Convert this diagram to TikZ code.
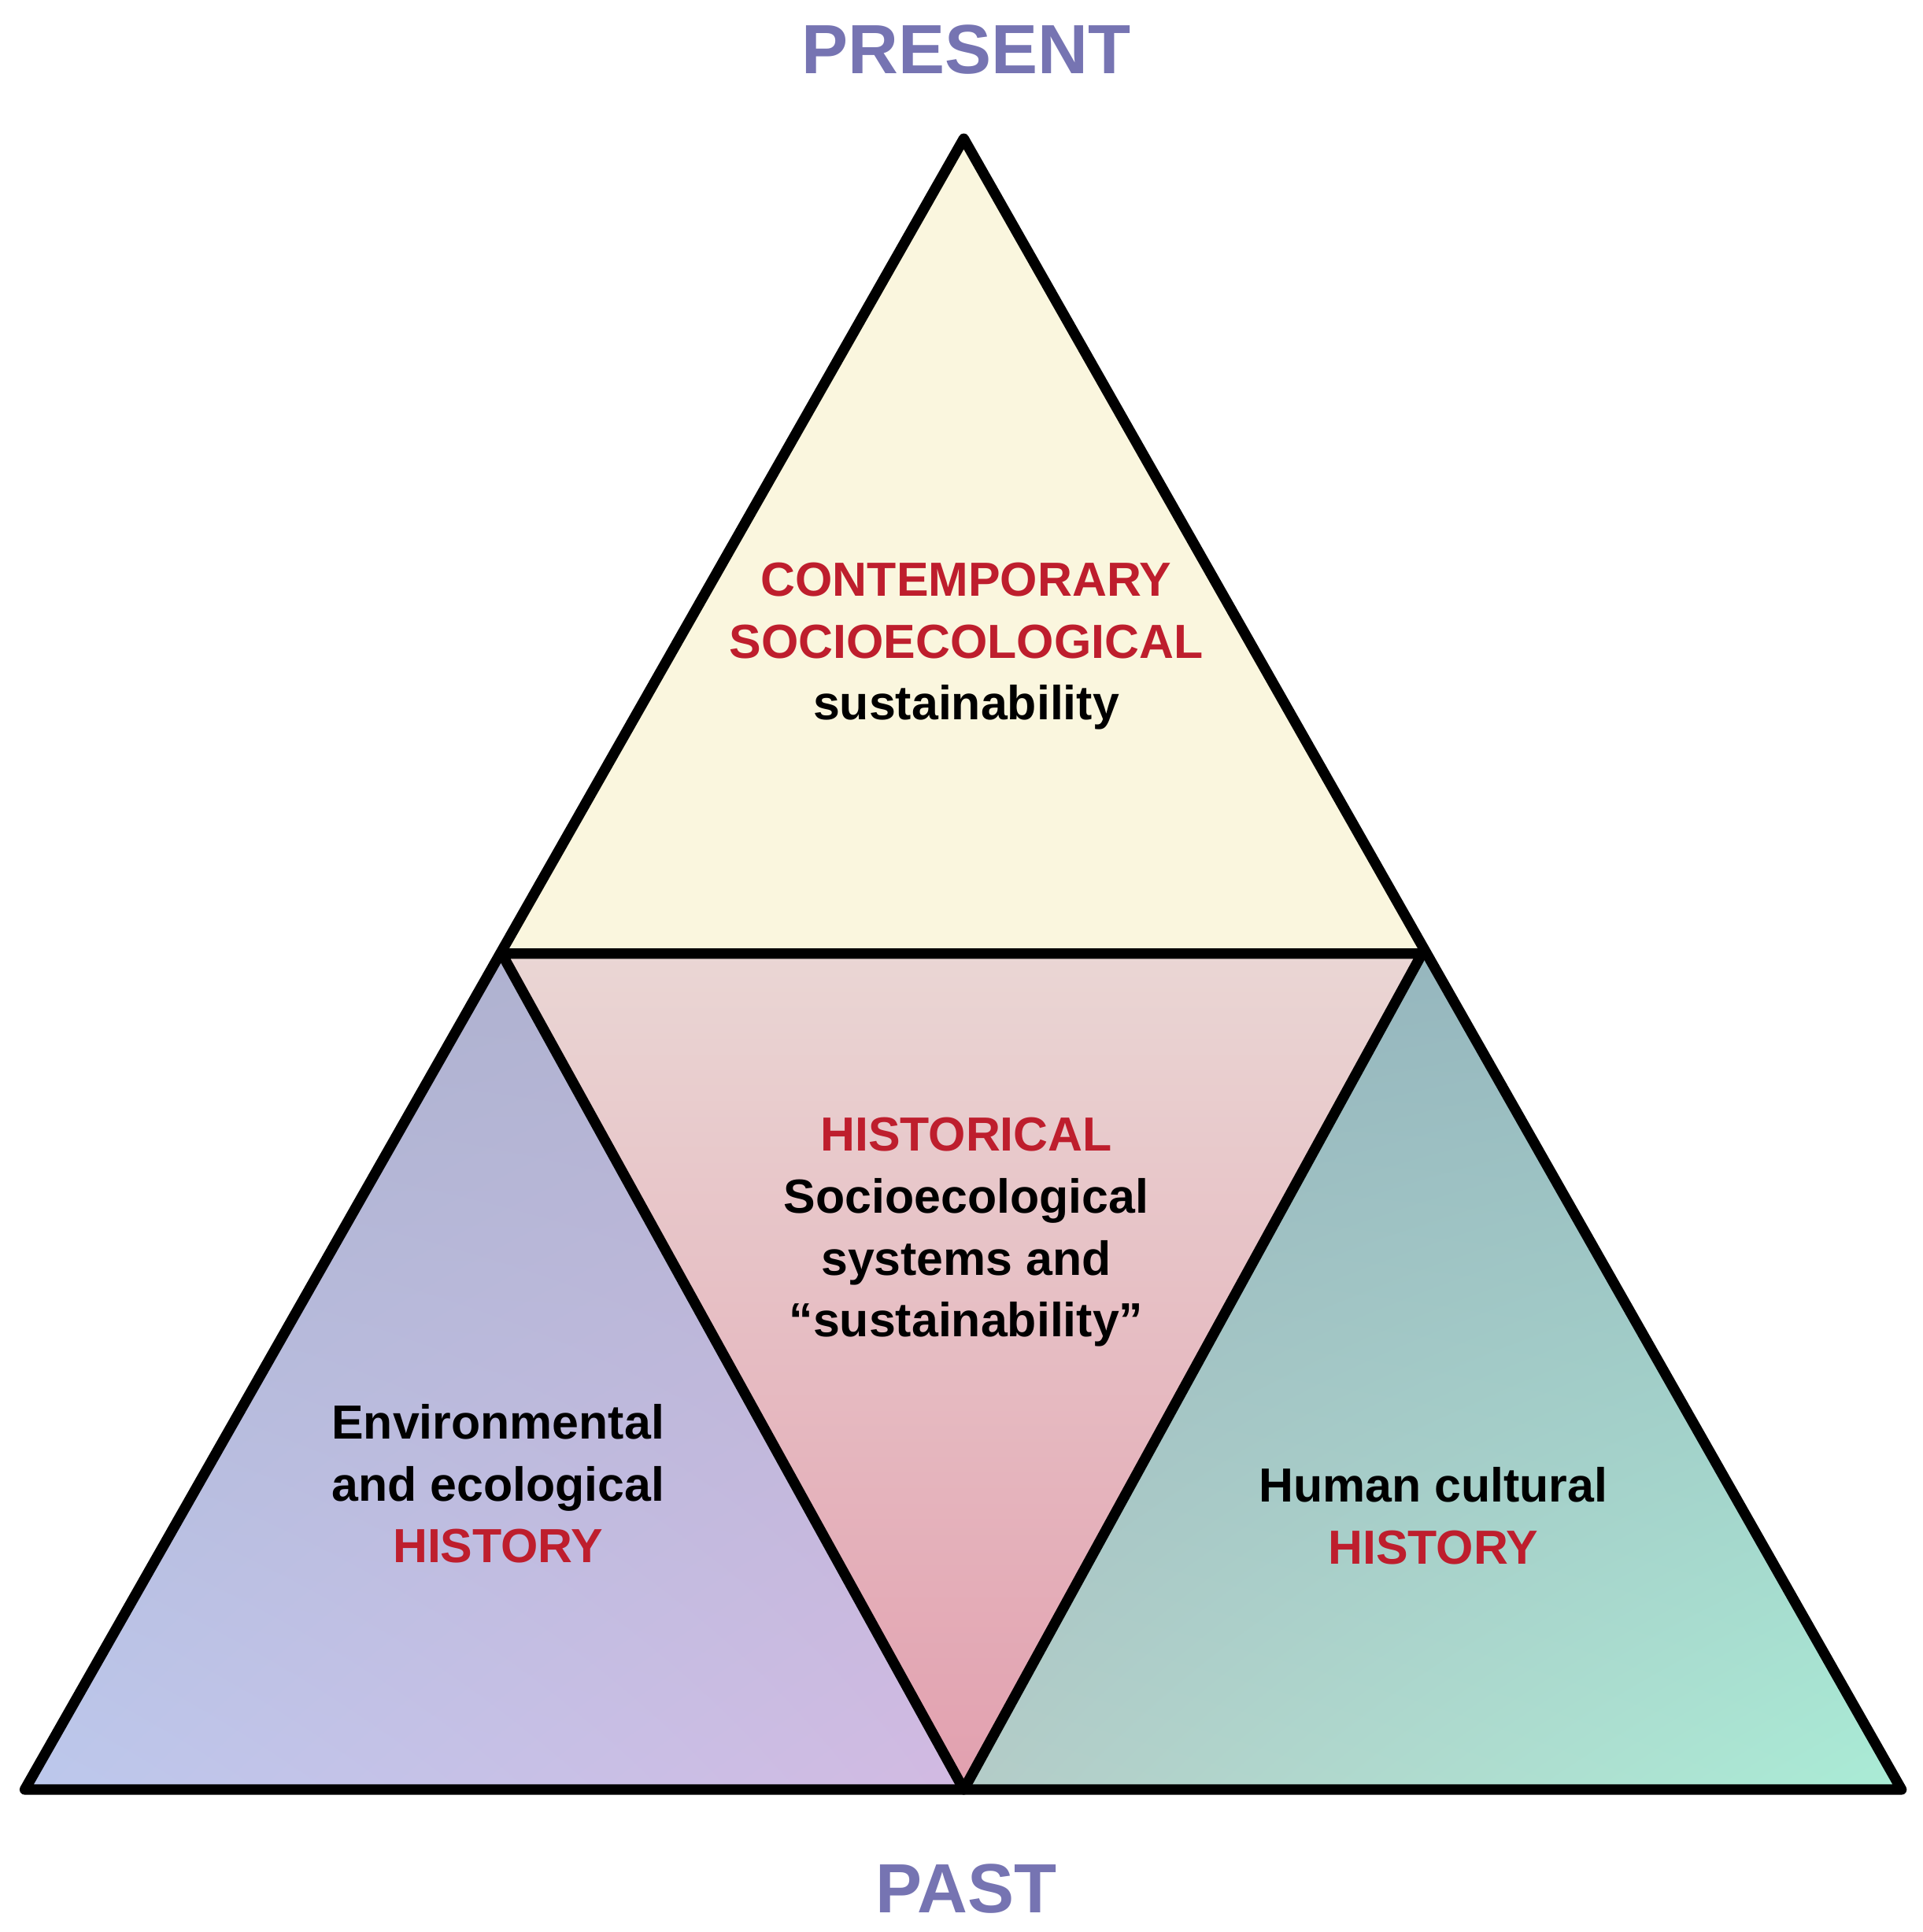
\documentclass[tikz,border=0pt]{standalone}
\usepackage{fontspec}
\setmainfont{Liberation Sans}
\usetikzlibrary{shadings}
\definecolor{timeclr}{RGB}{118,116,178}
\definecolor{hotred}{RGB}{190,30,45}
\definecolor{topfill}{RGB}{250,246,222}
\definecolor{midtop}{RGB}{234,214,212}
\definecolor{midbot}{RGB}{226,160,175}
\definecolor{envll}{RGB}{188,200,236}
\definecolor{envul}{RGB}{170,178,206}
\definecolor{envur}{RGB}{180,178,210}
\definecolor{envlr}{RGB}{210,186,226}
\definecolor{humll}{RGB}{180,204,200}
\definecolor{humul}{RGB}{150,180,190}
\definecolor{humur}{RGB}{150,185,190}
\definecolor{humlr}{RGB}{170,236,214}
\tikzset{
  edge/.style={line width=2.4pt, line join=round},
  lbl/.style={align=center, font=\bfseries\fontsize{11}{14.2}\selectfont},
  timelbl/.style={font=\bfseries\fontsize{16}{18}\selectfont, text=timeclr}
}
\begin{document}
\begin{tikzpicture}
\useasboundingbox (0,0) rectangle (15.52,15.6);
% corners of the triangles
\coordinate (apex) at (7.78,14.48);
\coordinate (ml) at (4.05,7.90);
\coordinate (mr) at (11.48,7.90);
\coordinate (bl) at (0.20,1.15);
\coordinate (bm) at (7.78,1.15);
\coordinate (br) at (15.35,1.15);
% fills
\fill[topfill] (apex)--(ml)--(mr)--cycle;
\shade[top color=midtop, bottom color=midbot] (ml)--(mr)--(bm)--cycle;
\shade[lower left=envll, upper left=envul, upper right=envur, lower right=envlr] (ml)--(bm)--(bl)--cycle;
\shade[lower left=humll, upper left=humul, upper right=humur, lower right=humlr] (mr)--(br)--(bm)--cycle;
% edges
\draw[edge] (apex)--(bl)--(br)--cycle;
\draw[edge] (ml)--(mr)--(bm)--cycle;
% texts
\node[timelbl] (present) at (7.80,15.20) {PRESENT};
\node[timelbl] (past) at (7.80,0.35) {PAST};
\node[lbl] (contemp) at (7.80,10.38) {\textcolor{hotred}{CONTEMPORARY}\\\textcolor{hotred}{SOCIOECOLOGICAL}\\sustainability};
\node[lbl] (histor) at (7.80,5.65) {\textcolor{hotred}{HISTORICAL}\\Socioecological\\systems and\\“sustainability”};
\node[lbl] (envhist) at (4.02,3.62) {Environmental\\and ecological\\\textcolor{hotred}{HISTORY}};
\node[lbl] (humhist) at (11.57,3.36) {Human cultural\\\textcolor{hotred}{HISTORY}};
\end{tikzpicture}
\end{document}
